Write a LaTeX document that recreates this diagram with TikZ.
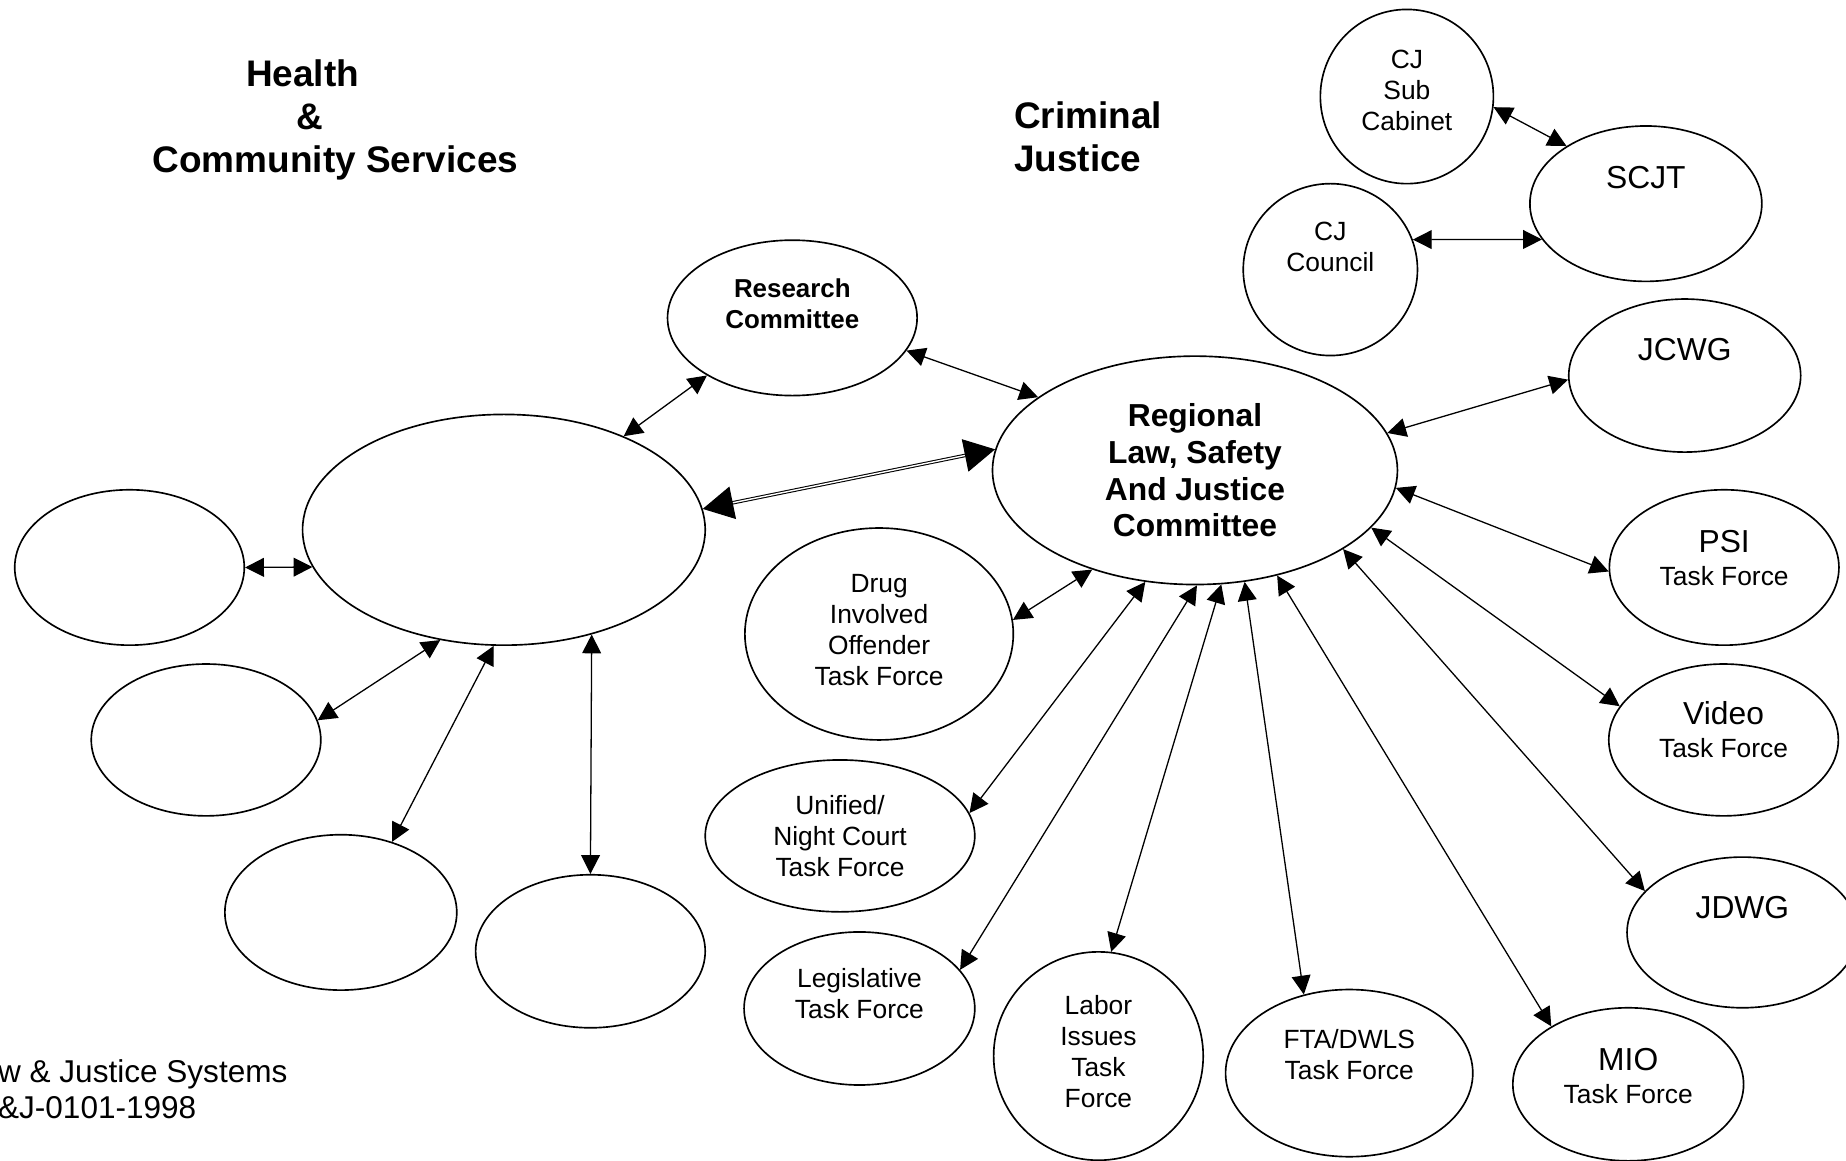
\documentclass[tikz,border=0pt]{standalone}
\usepackage{fontspec}
\setmainfont{Liberation Sans}
\usepackage{tikz}
\usetikzlibrary{shapes.geometric}
\usetikzlibrary{arrows.meta}
\tikzstyle{oval}=[ellipse,draw,line width=0.7pt,inner sep=0pt]
\tikzstyle{tag}=[align=center,inner sep=0pt]
\tikzstyle{link}=[draw,line width=0.55pt,>={Triangle[length=8pt,width=8pt]},<->]
\tikzstyle{mainlink}=[draw,line width=0.45pt,double,double distance=0.6pt,>={Triangle[length=13pt,width=14pt]},<->]
\newcommand{\titlefont}{\fontsize{15.7}{18.4}\selectfont\bfseries}
\newcommand{\chairfont}{\fontsize{13.5}{15.6}\selectfont\bfseries}
\newcommand{\boardfont}{\fontsize{11}{13.3}\selectfont\bfseries}
\newcommand{\bigfont}{\fontsize{13.5}{13.9}\selectfont}
\newcommand{\taskfont}{\fontsize{11.2}{13.2}\selectfont}
\newcommand{\notefont}{\fontsize{13.4}{15.3}\selectfont}

\begin{document}
\begin{tikzpicture}[x=0.5pt,y=-0.5pt]
    \useasboundingbox (0,0) rectangle (1568,986);
    % Headings and the note in the corner
    \node[tag,font=\titlefont] (hcstitle) at (285,102) {\mbox{Health\hspace{28pt}}\\\mbox{\&\hspace{22pt}}\\Community Services};
    \node[tag,align=left,anchor=west,font=\titlefont] (cjtitle) at (861,116) {Criminal\\Justice};
    \node[tag,align=left,anchor=north west,font=\notefont] (note) at (-2,899.5) {w \& Justice Systems\\\&J-0101-1998};

    % First we draw the empty ovals of the health side
    \foreach \pos/\name/\w/\h in {{(428,450)/hcs/171/98}, {(110,482)/hcsA/97.5/66}, {(175,628.5)/hcsB/97.5/64.5}, {(289.5,775)/hcsC/98.5/66}, {(501.5,808)/hcsD/97.5/65}}
        \node[oval,minimum width=\w pt,minimum height=\h pt] (\name) at \pos {};

    % Then the committees and task forces
    \node[oval,minimum width=106pt,minimum height=66pt,label={[tag,font=\boardfont,yshift=6pt]center:Research\\Committee}] (research) at (673,270) {};
    \node[oval,minimum width=172pt,minimum height=97pt,label={[tag,font=\chairfont]center:Regional\\Law, Safety\\And Justice\\Committee}] (rlsjc) at (1015,399.5) {};
    \node[oval,minimum width=114pt,minimum height=90pt,label={[tag,font=\taskfont,yshift=1.75pt]center:Drug\\Involved\\Offender\\Task Force}] (drug) at (746.7,538.5) {};
    \node[oval,minimum width=114.5pt,minimum height=64.5pt,label={[tag,font=\taskfont]center:Unified/\\Night Court\\Task Force}] (unified) at (713.5,710) {};
    \node[oval,minimum width=98pt,minimum height=65pt,label={[tag,font=\taskfont,yshift=6.5pt]center:Legislative\\Task Force}] (legis) at (730,856.6) {};
    \node[oval,minimum width=89pt,minimum height=88.5pt,label={[tag,font=\taskfont,yshift=1.75pt]center:Labor\\Issues\\Task\\Force}] (labor) at (933,897) {};
    \node[oval,minimum width=105pt,minimum height=71pt,label={[tag,font=\taskfont,yshift=7.75pt]center:FTA/DWLS\\Task Force}] (fta) at (1146,911.5) {};
    \node[oval,minimum width=98pt,minimum height=65pt,label={[tag,font=\bigfont,yshift=3.5pt]center:MIO\\{\taskfont Task Force}}] (mio) at (1383,921) {};
    \node[oval,minimum width=98pt,minimum height=64pt,label={[tag,font=\bigfont,yshift=10.5pt]center:JDWG}] (jdwg) at (1480,792) {};
    \node[oval,minimum width=97.5pt,minimum height=64.5pt,label={[tag,font=\bigfont,yshift=4.25pt]center:Video\\{\taskfont Task Force}}] (video) at (1464,628.5) {};
    \node[oval,minimum width=97.5pt,minimum height=66pt,label={[tag,font=\bigfont,yshift=4pt]center:PSI\\{\taskfont Task Force}}] (psi) at (1464.5,482) {};
    \node[oval,minimum width=98.5pt,minimum height=65pt,label={[tag,font=\bigfont,yshift=11pt]center:JCWG}] (jcwg) at (1431,319) {};
    \node[oval,minimum width=98.5pt,minimum height=66pt,label={[tag,font=\bigfont,yshift=11pt]center:SCJT}] (scjt) at (1398,173) {};
    \node[oval,minimum width=73.5pt,minimum height=74pt,label={[tag,font=\taskfont,yshift=2.75pt]center:CJ\\Sub\\Cabinet}] (cjsub) at (1195,82) {};
    \node[oval,minimum width=74pt,minimum height=73pt,label={[tag,font=\taskfont,yshift=9.5pt]center:CJ\\Council}] (cjcouncil) at (1130,229) {};

    % Connect the ovals
    \path[mainlink] (hcs.6) -- (rlsjc.174);
    \foreach \source/\dest in {research.214/hcs.38, research.-16/rlsjc.155, hcsA.0/hcs.191, hcs.240/hcsB.10, hcs.265/hcsC.54, hcs.310/hcsD.90, cjsub.-7/scjt.144, cjcouncil.20/scjt.199, rlsjc.11/jcwg.182, rlsjc.-5/psi.182, rlsjc.-18/video.162, rlsjc.-28/jdwg.157, rlsjc.-52/mio.143, rlsjc.-66/fta.120, rlsjc.-77/labor.83, rlsjc.-89/legis.21, rlsjc.-114/unified.10, rlsjc.-136/drug.6}
        \path[link] (\source) -- (\dest);
\end{tikzpicture}
\end{document}
